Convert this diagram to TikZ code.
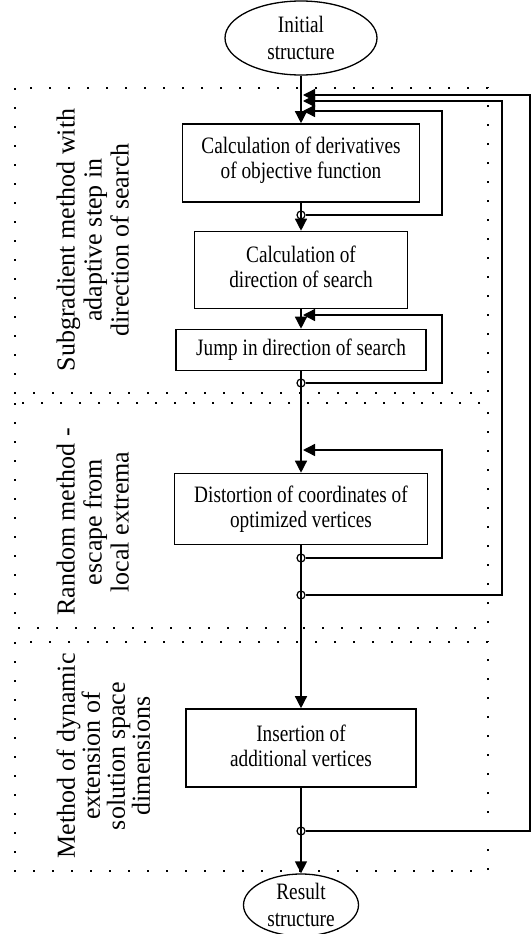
\documentclass[tikz,border=0pt]{standalone}
\usepackage{fontspec}
\setmainfont{Liberation Serif}
\newfontfamily\boxfont[FakeStretch=0.82]{Liberation Serif}
\usetikzlibrary{arrows.meta,positioning,shapes.geometric}
\tikzset{
    flow chart/.style  = {x=1pt, y=-1pt, >={Triangle[length=12pt, width=12pt]}},
    line/.style        = {line width=1.4pt},
    block/.style       = {draw, line width=1.6pt, fill=white, align=center,
                          inner sep=0pt, font=\boxfont\fontsize{23.5}{25}\selectfont},
    terminal/.style    = {block, ellipse, line width=1.3pt,
                          font=\boxfont\fontsize{23.5}{27}\selectfont},
    joint/.style       = {draw, circle, line width=1.2pt, inner sep=0pt,
                          minimum size=8pt},
    stage/.style       = {line width=2pt, dash pattern=on 2pt off 17pt},
    stage label/.style = {rotate=90, anchor=north, align=center,
                          font=\fontsize{26}{27}\selectfont}
}
\begin{document}
\begin{tikzpicture}[flow chart]
\useasboundingbox (0,0) rectangle (532,934);

% ================= Stages (dotted frames) =================
\draw[stage] (15,88)  rectangle (488,393);
\draw[stage] (15,403) rectangle (488,628);
\draw[stage] (15,642) rectangle (488,871);

\node[stage label] (lab1) at (53,240) {Subgradient method with\\adaptive step in\\direction of search};
\node[stage label] (lab2) at (53,522) {Random method -\\escape from\\local extrema};
\node[stage label, font=\fontsize{26}{25}\selectfont] (lab3) at (53,756) {Method of dynamic\\extension of\\solution space\\dimensions};

% ================= Main column =================
\node[terminal, minimum width=152, minimum height=74] (init) at (301,38) {Initial\\structure};
\node[block, minimum width=237, minimum height=78] (deriv) at (301,163) {Calculation of derivatives\\of objective function\\[-14pt]\mbox{}};
\node[block, minimum width=213, minimum height=77] (dir)   at (301,270) {Calculation of\\direction of search\\[-18pt]\mbox{}};
\node[block, minimum width=250, minimum height=41] (jump)  at (301,350) {Jump in direction of search};
\node[block, minimum width=253, minimum height=71] (dist)  at (301,509) {Distortion of coordinates of\\optimized vertices};
\node[block, minimum width=230, minimum height=78] (ins)   at (301,748) {Insertion of\\additional vertices\\[-20pt]\mbox{}};
\node[terminal, minimum width=115, minimum height=62] (res) at (301,905) {Result\\structure};

% junctions
\node[joint] (j1) at (301,215) {};
\node[joint] (j2) at (301,383) {};
\node[joint] (j3) at (301,558) {};
\node[joint] (j4) at (301,595) {};
\node[joint] (j5) at (301,831) {};

\draw[->, line] (init.south) -- (deriv.north);
\draw[->, line] (deriv.south) -- (dir.north);
\draw[->, line] (dir.south) -- (jump.north);
\draw[->, line] (jump.south) -- (dist.north);
\draw[->, line] (dist.south) -- (ins.north);
\draw[->, line] (ins.south) -- (res.north);

% ================= Return loops =================
\coordinate (r1) at (442,0);   % inner rail
\coordinate (r2) at (502,0);   % middle rail
\coordinate (r3) at (530,0);   % outer rail

\coordinate (t1) at (303,111);
\coordinate (t2) at (303,315);
\coordinate (t3) at (303,450);
\coordinate (t4) at (303,101);
\coordinate (t5) at (303,95);

\draw[->, line] (j1.east) -- (j1 -| r1) |- (t1);
\draw[->, line] (j2.east) -- (j2 -| r1) |- (t2);
\draw[->, line] (j3.east) -- (j3 -| r1) |- (t3);
\draw[->, line] (j4.east) -- (j4 -| r2) |- (t4);
\draw[->, line] (j5.east) -- (j5 -| r3) |- (t5);

\end{tikzpicture}
\end{document}
